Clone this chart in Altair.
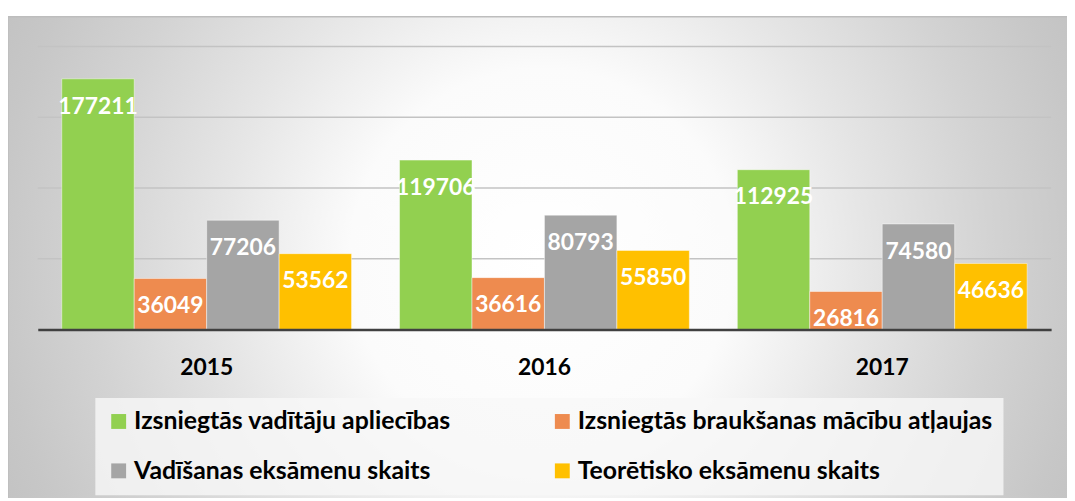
import altair as alt
import pandas as pd

years = ["2015", "2016", "2017"]
series = [
    "Izsniegtās vadītāju apliecības",
    "Izsniegtās braukšanas mācību atļaujas",
    "Vadīšanas eksāmenu skaits",
    "Teorētisko eksāmenu skaits",
]
vaditaju_apliecibas = [177211, 119706, 112925]
brauksanas_atlaujas = [36049, 36616, 26816]
vadisanas_eksameni = [77206, 80793, 74580]
teoretiskie_eksameni = [53562, 55850, 46636]
colors = ["#92d050", "#ee8b4f", "#a5a5a5", "#ffc000"]
grid_values = [50000, 100000, 150000, 200000]

rows = []
for s, vals in zip(series, [vaditaju_apliecibas, brauksanas_atlaujas,
                            vadisanas_eksameni, teoretiskie_eksameni]):
    for y, v in zip(years, vals):
        rows.append({"Gads": y, "Rādītājs": s, "Skaits": v})
df = pd.DataFrame(rows)

W, H = 1021, 285
PAD = {"left": 30, "top": 37, "right": 16, "bottom": 168}

FONT = "Lato"

bg = alt.Chart(pd.DataFrame({"a": [0]})).mark_rect(
    fill={
        "gradient": "radial",
        "x1": 0.5, "y1": 0.5, "r1": 0,
        "x2": 0.5, "y2": 0.5, "r2": 0.6,
        "stops": [
            {"offset": 0, "color": "#ffffff"},
            {"offset": 0.3, "color": "#fbfbfb"},
            {"offset": 0.5, "color": "#e6e6e6"},
            {"offset": 0.7, "color": "#d3d3d3"},
            {"offset": 0.85, "color": "#c7c7c7"},
            {"offset": 1, "color": "#bebebe"},
        ],
    },
    stroke="#bdbdbd",
    strokeWidth=1.5,
).encode(
    x=alt.value(-PAD["left"]),
    x2=alt.value(W + PAD["right"] + 10),
    y=alt.value(-30),
    y2=alt.value(H + PAD["bottom"] + 10),
)

ydomain = alt.Scale(domain=[0, 200000], nice=False)

grid = alt.Chart(pd.DataFrame({"v": grid_values})).mark_rule(
    color="#c3c3c3", strokeWidth=1.5
).encode(
    y=alt.Y("v:Q", scale=ydomain, axis=None),
    x=alt.value(0),
    x2=alt.value(W),
)

xenc = alt.X(
    "Gads:N",
    sort=years,
    scale=alt.Scale(paddingInner=0.142, paddingOuter=0.071),
    axis=alt.Axis(
        title=None, labelAngle=0, ticks=False, labelFont=FONT,
        labelFontSize=23, labelFontWeight="bold", labelColor="#000000",
        labelPadding=27, domainColor="#404040", domainWidth=2.5, zindex=1,
    ),
)
xoff = alt.XOffset("Rādītājs:N", sort=series, scale=alt.Scale(paddingInner=0.0))

bars = alt.Chart(df).mark_bar(
    stroke="#ffffff", strokeOpacity=0.45, strokeWidth=1
).encode(
    x=xenc,
    xOffset=xoff,
    y=alt.Y("Skaits:Q", scale=ydomain, axis=None),
    color=alt.Color(
        "Rādītājs:N",
        sort=series,
        scale=alt.Scale(domain=series, range=colors),
        legend=alt.Legend(
            title=None, orient="none", legendX=58, legendY=354,
            direction="horizontal",
            columns=2, columnPadding=99, rowPadding=24, padding=11,
            symbolType="square", symbolSize=225, symbolStrokeWidth=0,
            labelFont=FONT, labelFontSize=25, labelFontWeight="bold",
            labelColor="#000000", labelLimit=700, labelOffset=3,
            fillColor="rgba(248,248,248,0.8)",
        ),
    ),
)

labels = alt.Chart(df).mark_text(
    color="#ffffff", font=FONT, fontSize=23, fontWeight="bold",
    baseline="middle", dy=28,
).encode(
    x=xenc,
    xOffset=xoff,
    y=alt.Y("Skaits:Q", scale=ydomain, axis=None),
    text=alt.Text("Skaits:Q", format="d"),
)

chart = alt.layer(bg, grid, bars, labels).properties(
    width=W, height=H,
    autosize=alt.AutoSizeParams(type="none"),
    padding=PAD,
).configure_view(stroke=None).configure(background="#ffffff")

chart.save("out.html", embed_options={"renderer": "svg", "actions": False})
